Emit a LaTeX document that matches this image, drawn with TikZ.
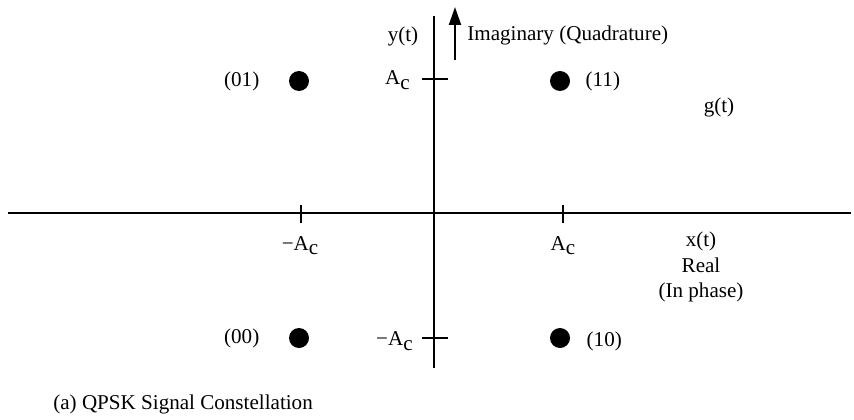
\documentclass[tikz,border=0pt]{standalone}
\usepackage{fontspec}
\setmainfont{Liberation Serif}
\usetikzlibrary{arrows.meta,positioning}
\tikzset{
  axis/.style={draw=black,line width=1.3pt},
  tick/.style={draw=black,line width=1.2pt},
  sym/.style={circle,fill=black,inner sep=0pt,minimum size=.4cm},
  lbl/.style={inner sep=0pt,align=center,font=\fontsize{12}{14.5}\selectfont},
  up/.style={-{Triangle[length=.36cm,width=.24cm]},draw=black,line width=1.2pt}
}
\newcommand{\Ac}{A\raisebox{-.45ex}{c}}
\newcommand{\mAc}{−\Ac}

\begin{document}
\begin{tikzpicture}[x=.02cm,y=-.02cm,node distance=.5cm]
  \useasboundingbox (0,0) rectangle (854,419);
  % axes
  \coordinate (west) at (8,213);
  \coordinate (east) at (851,213);
  \coordinate (north) at (434,16);
  \coordinate (south) at (434,368);
  \draw[axis] (west) -- (east);
  \draw[axis] (north) -- (south);
  % ticks
  \coordinate (xn) at (301,213);
  \coordinate (xp) at (563,213);
  \coordinate (yp) at (434,79);
  \coordinate (yn) at (434,338);
  \draw[tick] (xn) ++(0,-8) -- ++(0,18);
  \draw[tick] (xp) ++(0,-8) -- ++(0,18);
  \draw[tick] (yp) ++(-12,0) -- ++(26,0);
  \draw[tick] (yn) ++(-12,0) -- ++(26,0);
  % symbols
  \node[sym] (s01) at (299,81) {};
  \node[sym] (s11) at (560,81) {};
  \node[sym] (s00) at (299,338) {};
  \node[sym] (s10) at (560,338) {};
  \node[lbl,left=.58cm of s01] (l01) {(01)};
  \node[lbl,right=.3cm of s11] (l11) {(11)};
  \node[lbl,left=.58cm of s00] (l00) {(00)};
  \node[lbl,right=.32cm of s10,yshift=-2pt] (l10) {(10)};
  % axis labels
  \node[lbl,anchor=east] (ypl) at (410,80) {\Ac};
  \node[lbl,anchor=east] (ynl) at (413,341) {\mAc};
  \node[lbl,anchor=north] (xnl) at (300,236) {\mAc};
  \node[lbl,anchor=north] (xpl) at (563,236) {\Ac};
  \node[lbl] (yt) at (403,36) {y(t)};
  \coordinate (arrbase) at (455,60);
  \coordinate (arrtip) at (455,7);
  \draw[up] (arrbase) -- (arrtip);
  \node[lbl,anchor=west] (imag) at (467,35) {Imaginary (Quadrature)};
  \node[lbl] (gt) at (719,107) {g(t)};
  \node[lbl,anchor=north] (real) at (701,232) {x(t)\\Real\\(In phase)};
  \node[lbl,anchor=west] (cap) at (53,404) {(a) QPSK Signal Constellation};
\end{tikzpicture}
\end{document}
